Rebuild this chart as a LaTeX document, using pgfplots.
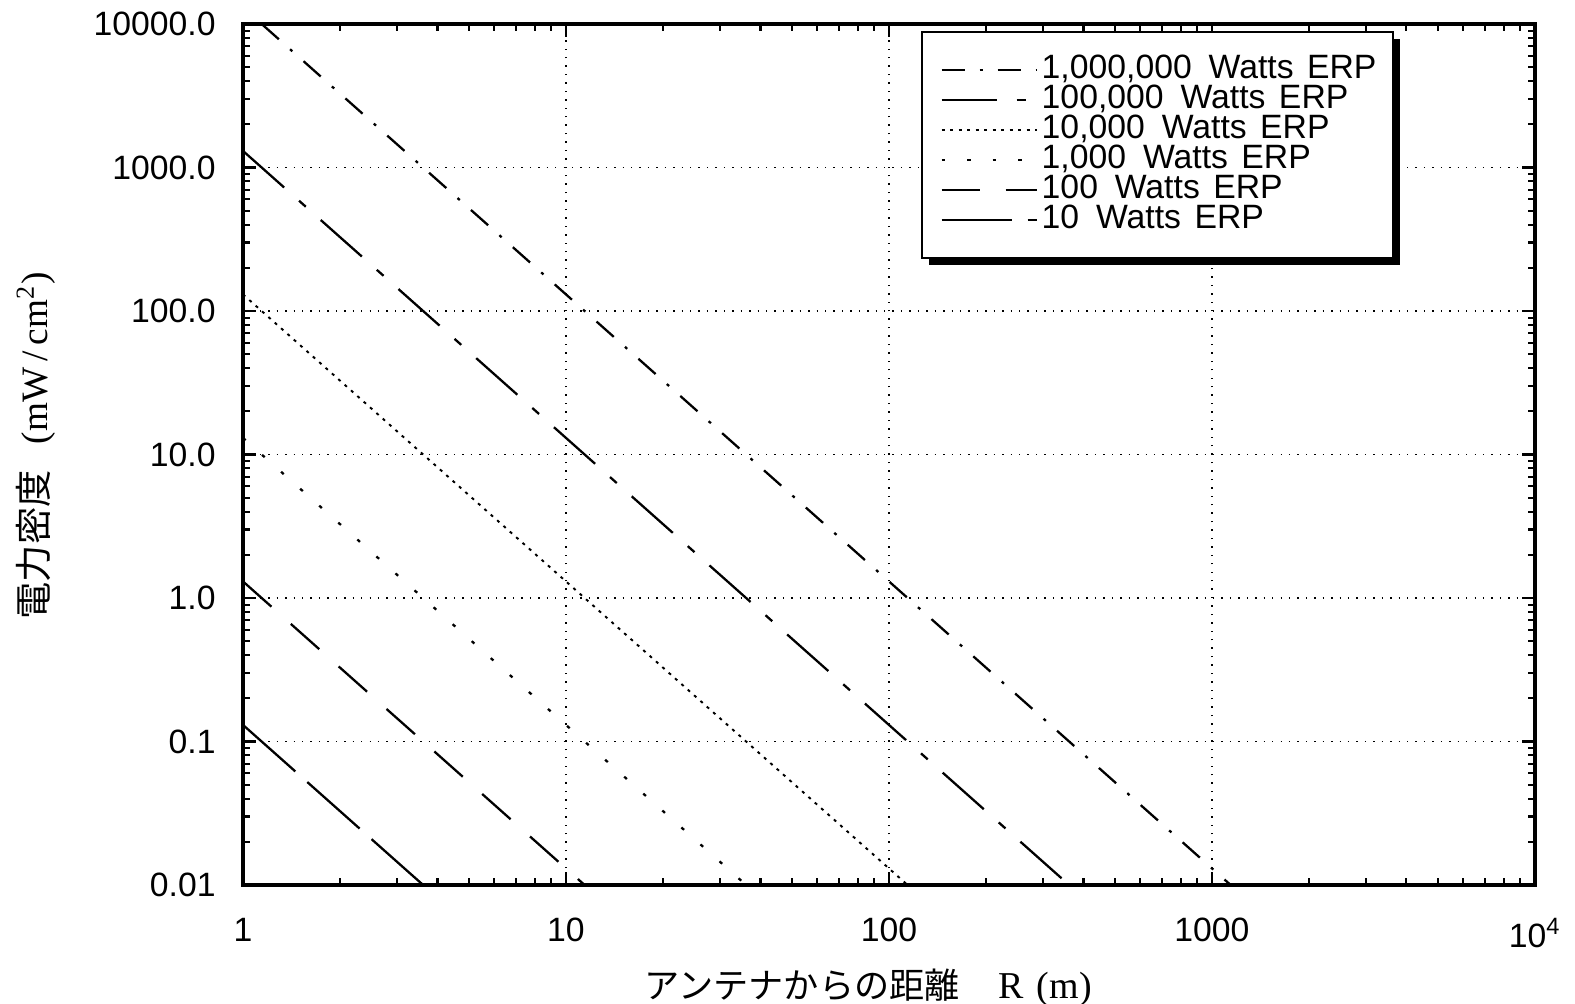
\documentclass[border=0pt]{standalone}
\usepackage{pgfplots}
\pgfplotsset{compat=1.18}
\usepackage{fontspec}
\setmainfont{Liberation Sans}
\newfontfamily\jp{Noto Sans CJK JP}
\newfontfamily\serif{Liberation Serif}
\usetikzlibrary{calc}
\begin{document}
\begin{tikzpicture}
\begin{loglogaxis}[
  scale only axis,
  width=129.2mm, height=86.1mm,
  xmin=1, xmax=10000, ymin=0.01, ymax=10000,
  xtick={1,10,100,1000,10000},
  xticklabels={1,10,100,1000,10\textsuperscript{4}},
  ytick={0.01,0.1,1,10,100,1000,10000},
  yticklabels={0.01,0.1,1.0,10.0,100.0,1000.0,10000.0},
  /pgf/number format/assume math mode=true,
  tick label style={font=\fontsize{9.6}{11}\selectfont},
  xticklabel style={yshift=-2.1mm},
  yticklabel style={xshift=-1.5mm},
  tick align=inside,
  major tick length=1.3mm, minor tick length=0.7mm,
  every tick/.style={black, line width=0.6pt},
  axis line style={line width=0.9pt},
  grid=major,
  major grid style={black, dotted, line width=0.5pt},
  xlabel={\fontsize{10}{12}\selectfont{\jp アンテナからの距離}\hspace{1.1em}{\fontsize{10.8}{12}\selectfont\serif R\hspace{0.35em}(m)}},
  ylabel={\fontsize{10.6}{12}\selectfont{\jp 電力密度}\hspace{0.7em}{\serif (mW\,/\,cm\textsuperscript{2})}},
  xlabel style={at={(axis description cs:0.484,-0.119)}, anchor=center},
  ylabel style={at={(axis description cs:-0.16,0.51)}, anchor=center},
  legend cell align=left,
  legend style={at={(rel axis cs:0.5255,0.9907)}, anchor=north west,
    draw=none, fill=none,
    inner xsep=1.8mm, inner ysep=2.2mm, row sep=0pt, column sep=0.4mm,
    font=\fontsize{9.6}{10}\selectfont,
    nodes={inner xsep=0pt, inner ysep=0pt, text height=2.4mm, text depth=0.6mm}},
  legend image code/.code={\draw[#1, line width=0.6pt] (0mm,0mm) -- (9.5mm,0mm);},
]
\coordinate (O) at (rel axis cs:0,0);
\fill[black] (rel axis cs:0.5309,0.7201) rectangle (rel axis cs:0.8955,0.9826);
\filldraw[fill=white, draw=black, line width=0.7pt] (rel axis cs:0.5255,0.7282) rectangle (rel axis cs:0.8901,0.9907);
\addplot[black, line width=0.65pt, dash pattern=on 2.3mm off 1.5mm on 0.3mm off 1.5mm] coordinates {(1.1424,10000) (1142.4,0.01)};
\addlegendentry{1,000,000\hspace{0.5em}Watts\hspace{0.4em}ERP}
\addplot[black, line width=0.65pt, dash pattern=on 5.5mm off 2mm on 0.9mm off 2mm] coordinates {(1,1305) (361.2,0.01)};
\addlegendentry{100,000\hspace{0.5em}Watts\hspace{0.4em}ERP}
\addplot[black, line width=0.55pt, dash pattern=on 0.3mm off 0.55mm] coordinates {(1,130.5) (114.2,0.01)};
\addlegendentry{10,000\hspace{0.5em}Watts\hspace{0.4em}ERP}
\addplot[black, line width=0.65pt, dash pattern=on 0.35mm off 2.2mm] coordinates {(1,13.05) (36.12,0.01)};
\addlegendentry{1,000\hspace{0.5em}Watts\hspace{0.4em}ERP}
\addplot[black, line width=0.65pt, dash pattern=on 3.8mm off 2.6mm] coordinates {(1,1.305) (11.42,0.01)};
\addlegendentry{100\hspace{0.5em}Watts\hspace{0.4em}ERP}
\addplot[black, line width=0.65pt, dash pattern=on 7mm off 1.6mm] coordinates {(1,0.1305) (3.612,0.01)};
\addlegendentry{10\hspace{0.5em}Watts\hspace{0.4em}ERP}
\end{loglogaxis}
\pgfresetboundingbox
\path ($(O)+(-24.3mm,-11.9mm)$) rectangle ($(O)+(133.2mm,88.5mm)$);
\end{tikzpicture}
\end{document}
